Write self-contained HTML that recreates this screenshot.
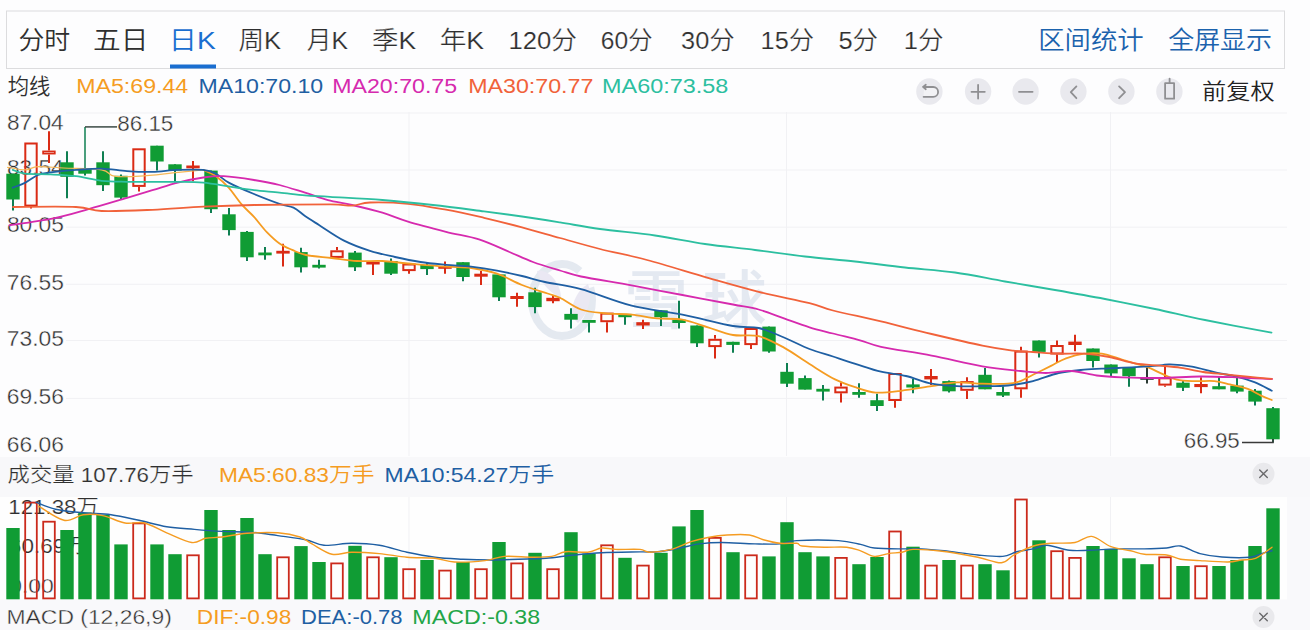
<!DOCTYPE html><html><head><meta charset="utf-8"><title>K线图</title>
<style>html,body{margin:0;padding:0;background:#fdfdfe;}body{width:1310px;height:630px;overflow:hidden;}svg{display:block;font-family:'Liberation Sans','Noto Sans CJK SC',sans-serif;}</style></head><body>
<svg width="1310" height="630" viewBox="0 0 1310 630">
<rect x="0" y="0" width="1310" height="630" fill="#fdfdfe"/>
<rect x="0" y="457" width="1310" height="40" fill="#f8f8fa"/>
<rect x="0" y="497" width="1310" height="133" fill="#f9f9fb"/>
<rect x="0" y="497" width="1287" height="102.5" fill="#fefefe"/>
<rect x="6.5" y="11" width="1278" height="57.5" fill="#fdfdfe" stroke="#dcdcde" stroke-width="1"/>
<line x1="66" x2="1287" y1="113.0" y2="113.0" stroke="#f1f1f4" stroke-width="1"/>
<line x1="66" x2="1287" y1="170.0" y2="170.0" stroke="#f1f1f4" stroke-width="1"/>
<line x1="66" x2="1287" y1="227.2" y2="227.2" stroke="#f1f1f4" stroke-width="1"/>
<line x1="66" x2="1287" y1="284.3" y2="284.3" stroke="#f1f1f4" stroke-width="1"/>
<line x1="66" x2="1287" y1="340.5" y2="340.5" stroke="#f1f1f4" stroke-width="1"/>
<line x1="66" x2="1287" y1="398.4" y2="398.4" stroke="#f1f1f4" stroke-width="1"/>
<line x1="409.0" x2="409.0" y1="112" y2="456" stroke="#f1f1f4" stroke-width="1"/>
<line x1="409.0" x2="409.0" y1="497" y2="599" stroke="#f1f1f4" stroke-width="1"/>
<line x1="786.5" x2="786.5" y1="112" y2="456" stroke="#f1f1f4" stroke-width="1"/>
<line x1="786.5" x2="786.5" y1="497" y2="599" stroke="#f1f1f4" stroke-width="1"/>
<line x1="1110.5" x2="1110.5" y1="112" y2="456" stroke="#f1f1f4" stroke-width="1"/>
<line x1="1110.5" x2="1110.5" y1="497" y2="599" stroke="#f1f1f4" stroke-width="1"/>
<text x="18.44" y="48.8" font-size="24.5" fill="#2f2f2f" font-weight="350" textLength="51.81" lengthAdjust="spacingAndGlyphs">分时</text>
<text x="93.03" y="48.8" font-size="24.5" fill="#2f2f2f" font-weight="350" textLength="55.31" lengthAdjust="spacingAndGlyphs">五日</text>
<text x="168.74" y="48.8" font-size="24.5" fill="#1a6ed0" font-weight="350" textLength="46.93" lengthAdjust="spacingAndGlyphs">日K</text>
<text x="238.46" y="48.8" font-size="24.5" fill="#2f2f2f" font-weight="350" textLength="42.69" lengthAdjust="spacingAndGlyphs" stroke="#fcfcfd" stroke-width="0.19">周K</text>
<text x="306.89" y="48.8" font-size="24.5" fill="#2f2f2f" font-weight="350" textLength="41.25" lengthAdjust="spacingAndGlyphs" stroke="#fcfcfd" stroke-width="0.19">月K</text>
<text x="372.03" y="48.8" font-size="24.5" fill="#2f2f2f" font-weight="350" textLength="44.13" lengthAdjust="spacingAndGlyphs" stroke="#fcfcfd" stroke-width="0.19">季K</text>
<text x="439.69" y="48.8" font-size="24.5" fill="#2f2f2f" font-weight="350" textLength="44.47" lengthAdjust="spacingAndGlyphs" stroke="#fcfcfd" stroke-width="0.19">年K</text>
<text x="508.42" y="48.8" font-size="24.5" fill="#2f2f2f" font-weight="350" textLength="68.43" lengthAdjust="spacingAndGlyphs" stroke="#fcfcfd" stroke-width="0.19">120分</text>
<text x="600.80" y="48.8" font-size="24.5" fill="#2f2f2f" font-weight="350" textLength="51.91" lengthAdjust="spacingAndGlyphs" stroke="#fcfcfd" stroke-width="0.19">60分</text>
<text x="681.07" y="48.8" font-size="24.5" fill="#2f2f2f" font-weight="350" textLength="53.57" lengthAdjust="spacingAndGlyphs" stroke="#fcfcfd" stroke-width="0.19">30分</text>
<text x="760.64" y="48.8" font-size="24.5" fill="#2f2f2f" font-weight="350" textLength="53.39" lengthAdjust="spacingAndGlyphs" stroke="#fcfcfd" stroke-width="0.19">15分</text>
<text x="838.47" y="48.8" font-size="24.5" fill="#2f2f2f" font-weight="350" textLength="39.57" lengthAdjust="spacingAndGlyphs" stroke="#fcfcfd" stroke-width="0.19">5分</text>
<text x="903.72" y="48.8" font-size="24.5" fill="#2f2f2f" font-weight="350" textLength="39.72" lengthAdjust="spacingAndGlyphs" stroke="#fcfcfd" stroke-width="0.19">1分</text>
<text x="1038.22" y="48.8" font-size="24.5" fill="#1b62ad" font-weight="350" textLength="105.46" lengthAdjust="spacingAndGlyphs">区间统计</text>
<text x="1168.16" y="48.8" font-size="24.5" fill="#1b62ad" font-weight="350" textLength="103.92" lengthAdjust="spacingAndGlyphs">全屏显示</text>
<rect x="170" y="64.5" width="46" height="4" fill="#1a6ed0"/>
<text x="7.71" y="94.3" font-size="21.5" fill="#2f2f2f" font-weight="350" textLength="42.69" lengthAdjust="spacingAndGlyphs">均线</text>
<text x="76.21" y="93.1" font-size="20.7" fill="#f59c22" font-weight="350" textLength="112.06" lengthAdjust="spacingAndGlyphs">MA5:69.44</text>
<text x="198.51" y="93.1" font-size="20.7" fill="#1f5fa3" font-weight="350" textLength="124.68" lengthAdjust="spacingAndGlyphs">MA10:70.10</text>
<text x="332.21" y="93.1" font-size="20.7" fill="#d62aae" font-weight="350" textLength="124.90" lengthAdjust="spacingAndGlyphs">MA20:70.75</text>
<text x="468.21" y="93.1" font-size="20.7" fill="#f1623a" font-weight="350" textLength="125.13" lengthAdjust="spacingAndGlyphs">MA30:70.77</text>
<text x="602.09" y="93.1" font-size="20.7" fill="#2cbfa0" font-weight="350" textLength="126.13" lengthAdjust="spacingAndGlyphs">MA60:73.58</text>
<text x="1202.06" y="98.7" font-size="21.5" fill="#222" font-weight="350" textLength="72.52" lengthAdjust="spacingAndGlyphs">前复权</text>
<circle cx="929.4" cy="91.5" r="13.2" fill="#e9e9ee"/>
<circle cx="978.1" cy="91.5" r="13.2" fill="#e9e9ee"/>
<circle cx="1025.6" cy="91.5" r="13.2" fill="#e9e9ee"/>
<circle cx="1073.4" cy="91.5" r="13.2" fill="#e9e9ee"/>
<circle cx="1121.4" cy="91.5" r="13.2" fill="#e9e9ee"/>
<circle cx="1169.4" cy="91.5" r="13.2" fill="#e9e9ee"/>
<path d="M924.0,87.0 h9.2 a4.9,4.9 0 0 1 0,9.8 h-9.6" stroke="#8f8f92" stroke-width="1.8" fill="#f2f2f5" stroke-linecap="round" stroke-linejoin="round"/>
<path d="M925.8,89.2 l-2.8,-2.3 l2.8,-2.1" stroke="#8f8f92" stroke-width="1.8" fill="none" stroke-linecap="round" stroke-linejoin="round"/>
<path d="M971.5,91.8 h13.3 M978.1,84.8 v13.7" stroke="#8f8f92" stroke-width="1.8" fill="none" stroke-linecap="round" stroke-linejoin="round"/>
<path d="M1019.0,91.8 h13.6" stroke="#8f8f92" stroke-width="1.8" fill="none" stroke-linecap="round" stroke-linejoin="round"/>
<path d="M1076.4,86.4 l-5.6,5.7 l5.6,6.1" stroke="#8f8f92" stroke-width="1.8" fill="none" stroke-linecap="round" stroke-linejoin="round"/>
<path d="M1119.1,86.4 l5.9,5.7 l-5.9,6.1" stroke="#8f8f92" stroke-width="1.8" fill="none" stroke-linecap="round" stroke-linejoin="round"/>
<path d="M1169.6,83.2 v-4.6 M1165.1,83.2 h9 v15.5 h-9 z" stroke="#8f8f92" stroke-width="1.8" fill="none" stroke-linecap="round" stroke-linejoin="round"/>
<text x="6.94" y="129.7" font-size="21.3" fill="#2f2f2f" font-weight="350" textLength="56.64" lengthAdjust="spacingAndGlyphs" stroke="#fcfcfd" stroke-width="0.35">87.04</text>
<text x="6.94" y="174.8" font-size="21.3" fill="#2f2f2f" font-weight="350" textLength="56.64" lengthAdjust="spacingAndGlyphs" stroke="#fcfcfd" stroke-width="0.35">83.54</text>
<text x="6.94" y="231.5" font-size="21.3" fill="#2f2f2f" font-weight="350" textLength="56.97" lengthAdjust="spacingAndGlyphs" stroke="#fcfcfd" stroke-width="0.35">80.05</text>
<text x="6.83" y="289.8" font-size="21.3" fill="#2f2f2f" font-weight="350" textLength="57.08" lengthAdjust="spacingAndGlyphs" stroke="#fcfcfd" stroke-width="0.35">76.55</text>
<text x="6.83" y="345.8" font-size="21.3" fill="#2f2f2f" font-weight="350" textLength="57.08" lengthAdjust="spacingAndGlyphs" stroke="#fcfcfd" stroke-width="0.35">73.05</text>
<text x="6.83" y="403.9" font-size="21.3" fill="#2f2f2f" font-weight="350" textLength="57.08" lengthAdjust="spacingAndGlyphs" stroke="#fcfcfd" stroke-width="0.35">69.56</text>
<text x="6.83" y="451.7" font-size="21.3" fill="#2f2f2f" font-weight="350" textLength="57.08" lengthAdjust="spacingAndGlyphs" stroke="#fcfcfd" stroke-width="0.35">66.06</text>
<text x="8.33" y="513.8" font-size="20" fill="#2f2f2f" font-weight="350" textLength="90.41" lengthAdjust="spacingAndGlyphs" stroke="#fcfcfd" stroke-width="0.19">121.38万</text>
<text x="8.87" y="552.5" font-size="20" fill="#2f2f2f" font-weight="350" textLength="78.98" lengthAdjust="spacingAndGlyphs" stroke="#fcfcfd" stroke-width="0.19">60.69万</text>
<text x="9.20" y="592.5" font-size="20" fill="#2f2f2f" font-weight="350" textLength="44.63" lengthAdjust="spacingAndGlyphs" stroke="#fcfcfd" stroke-width="0.35">0.00</text>
<g opacity="0.72">
<ellipse cx="562" cy="300" rx="30" ry="36" fill="none" stroke="#dbe2ec" stroke-width="8" stroke-dasharray="175 20 400"/>
<path d="M537,271 C549,268 561,284 561,298 C552,294 541,284 537,271 Z" fill="#e3e1ef"/>
<path d="M571,316 C572,300 579,289 588,284 C593,296 589,313 578,323 Z" fill="#e3e1ef"/>
<text x="624 702.5" y="322.6" font-size="64" font-weight="500" fill="#dbe2ed">雪球</text>
</g>
<line x1="13.0" x2="13.0" y1="173.7" y2="210.6" stroke="#0f7f52" stroke-width="2"/>
<rect x="6.3" y="173.7" width="13.4" height="25.8" fill="#109c34"/>
<line x1="31.0" x2="31.0" y1="206.6" y2="208.5" stroke="#da2b15" stroke-width="2"/>
<rect x="25.3" y="143.5" width="11.4" height="62.1" fill="none" stroke="#da2b15" stroke-width="2.0"/>
<line x1="49.0" x2="49.0" y1="131.2" y2="150.6" stroke="#da2b15" stroke-width="2"/>
<line x1="49.0" x2="49.0" y1="154.5" y2="163.0" stroke="#da2b15" stroke-width="2"/>
<rect x="43.1" y="151.4" width="11.7" height="2.2" fill="none" stroke="#da2b15" stroke-width="1.7"/>
<line x1="67.0" x2="67.0" y1="151.2" y2="198.3" stroke="#0f7f52" stroke-width="2"/>
<rect x="60.3" y="162.3" width="13.4" height="14.5" fill="#109c34"/>
<line x1="85.0" x2="85.0" y1="168.8" y2="175.5" stroke="#0f7f52" stroke-width="2"/>
<rect x="78.3" y="168.8" width="13.4" height="4.9" fill="#109c34"/>
<line x1="103.0" x2="103.0" y1="151.3" y2="191.1" stroke="#0f7f52" stroke-width="2"/>
<rect x="96.3" y="162.3" width="13.4" height="22.9" fill="#109c34"/>
<line x1="121.0" x2="121.0" y1="174.5" y2="199.0" stroke="#0f7f52" stroke-width="2"/>
<rect x="114.3" y="175.8" width="13.4" height="21.8" fill="#109c34"/>
<line x1="139.0" x2="139.0" y1="186.9" y2="191.5" stroke="#da2b15" stroke-width="2"/>
<rect x="133.3" y="149.3" width="11.4" height="36.6" fill="none" stroke="#da2b15" stroke-width="2.0"/>
<line x1="157.0" x2="157.0" y1="145.7" y2="170.6" stroke="#0f7f52" stroke-width="2"/>
<rect x="150.3" y="145.7" width="13.4" height="15.8" fill="#109c34"/>
<line x1="175.0" x2="175.0" y1="164.3" y2="182.6" stroke="#0f7f52" stroke-width="2"/>
<rect x="168.3" y="164.3" width="13.4" height="6.3" fill="#109c34"/>
<line x1="193.0" x2="193.0" y1="161.0" y2="181.3" stroke="#da2b15" stroke-width="2"/>
<rect x="186.3" y="165.5" width="13.4" height="2.8" fill="#da2b15"/>
<line x1="211.0" x2="211.0" y1="170.6" y2="213.0" stroke="#0f7f52" stroke-width="2"/>
<rect x="204.3" y="170.6" width="13.4" height="38.6" fill="#109c34"/>
<line x1="229.0" x2="229.0" y1="208.0" y2="235.4" stroke="#0f7f52" stroke-width="2"/>
<rect x="222.3" y="214.3" width="13.4" height="15.8" fill="#109c34"/>
<line x1="247.0" x2="247.0" y1="231.0" y2="261.0" stroke="#0f7f52" stroke-width="2"/>
<rect x="240.3" y="231.9" width="13.4" height="25.4" fill="#109c34"/>
<line x1="265.0" x2="265.0" y1="247.0" y2="259.7" stroke="#0f7f52" stroke-width="2"/>
<rect x="258.3" y="252.5" width="13.4" height="2.8" fill="#109c34"/>
<line x1="283.0" x2="283.0" y1="243.7" y2="266.6" stroke="#da2b15" stroke-width="2"/>
<rect x="276.3" y="250.8" width="13.4" height="2.8" fill="#da2b15"/>
<line x1="301.0" x2="301.0" y1="247.8" y2="272.4" stroke="#0f7f52" stroke-width="2"/>
<rect x="294.3" y="252.1" width="13.4" height="15.2" fill="#109c34"/>
<line x1="319.0" x2="319.0" y1="259.7" y2="268.6" stroke="#0f7f52" stroke-width="2"/>
<rect x="312.3" y="264.8" width="13.4" height="2.8" fill="#109c34"/>
<line x1="337.0" x2="337.0" y1="247.0" y2="250.3" stroke="#da2b15" stroke-width="2"/>
<rect x="331.3" y="251.3" width="11.4" height="5.6" fill="none" stroke="#da2b15" stroke-width="2.0"/>
<line x1="355.0" x2="355.0" y1="251.0" y2="271.1" stroke="#0f7f52" stroke-width="2"/>
<rect x="348.3" y="252.6" width="13.4" height="14.7" fill="#109c34"/>
<line x1="373.0" x2="373.0" y1="261.7" y2="275.0" stroke="#da2b15" stroke-width="2"/>
<rect x="366.3" y="261.7" width="13.4" height="2.8" fill="#da2b15"/>
<line x1="391.0" x2="391.0" y1="258.4" y2="275.0" stroke="#0f7f52" stroke-width="2"/>
<rect x="384.3" y="261.0" width="13.4" height="12.7" fill="#109c34"/>
<line x1="409.0" x2="409.0" y1="271.1" y2="273.7" stroke="#da2b15" stroke-width="2"/>
<rect x="403.3" y="264.5" width="11.4" height="5.6" fill="none" stroke="#da2b15" stroke-width="2.0"/>
<line x1="427.0" x2="427.0" y1="262.2" y2="275.0" stroke="#0f7f52" stroke-width="2"/>
<rect x="420.3" y="264.8" width="13.4" height="4.3" fill="#109c34"/>
<line x1="445.0" x2="445.0" y1="261.5" y2="273.7" stroke="#da2b15" stroke-width="2"/>
<rect x="438.3" y="266.0" width="13.4" height="2.8" fill="#da2b15"/>
<line x1="463.0" x2="463.0" y1="262.2" y2="281.3" stroke="#0f7f52" stroke-width="2"/>
<rect x="456.3" y="262.2" width="13.4" height="14.8" fill="#109c34"/>
<line x1="481.0" x2="481.0" y1="271.1" y2="285.1" stroke="#da2b15" stroke-width="2"/>
<rect x="474.3" y="273.7" width="13.4" height="3.0" fill="#da2b15"/>
<line x1="499.0" x2="499.0" y1="274.4" y2="301.1" stroke="#0f7f52" stroke-width="2"/>
<rect x="492.3" y="274.4" width="13.4" height="22.9" fill="#109c34"/>
<line x1="517.0" x2="517.0" y1="292.7" y2="306.7" stroke="#da2b15" stroke-width="2"/>
<rect x="510.3" y="296.0" width="13.4" height="3.0" fill="#da2b15"/>
<line x1="535.0" x2="535.0" y1="287.7" y2="313.2" stroke="#0f7f52" stroke-width="2"/>
<rect x="528.3" y="292.3" width="13.4" height="14.8" fill="#109c34"/>
<line x1="553.0" x2="553.0" y1="295.6" y2="303.2" stroke="#da2b15" stroke-width="2"/>
<rect x="546.3" y="297.8" width="13.4" height="3.4" fill="#da2b15"/>
<line x1="571.0" x2="571.0" y1="308.3" y2="328.6" stroke="#0f7f52" stroke-width="2"/>
<rect x="564.3" y="313.9" width="13.4" height="5.8" fill="#109c34"/>
<line x1="589.0" x2="589.0" y1="320.0" y2="332.4" stroke="#0f7f52" stroke-width="2"/>
<rect x="582.3" y="320.0" width="13.4" height="2.8" fill="#109c34"/>
<line x1="607.0" x2="607.0" y1="322.2" y2="332.4" stroke="#da2b15" stroke-width="2"/>
<rect x="601.3" y="313.6" width="11.4" height="7.6" fill="none" stroke="#da2b15" stroke-width="2.0"/>
<line x1="625.0" x2="625.0" y1="313.9" y2="324.8" stroke="#0f7f52" stroke-width="2"/>
<rect x="618.3" y="313.9" width="13.4" height="3.3" fill="#109c34"/>
<line x1="643.0" x2="643.0" y1="319.7" y2="329.1" stroke="#da2b15" stroke-width="2"/>
<rect x="636.3" y="322.2" width="13.4" height="3.3" fill="#da2b15"/>
<line x1="661.0" x2="661.0" y1="310.3" y2="326.0" stroke="#0f7f52" stroke-width="2"/>
<rect x="654.3" y="310.3" width="13.4" height="6.9" fill="#109c34"/>
<line x1="679.0" x2="679.0" y1="300.7" y2="328.6" stroke="#0f7f52" stroke-width="2"/>
<rect x="672.3" y="319.7" width="13.4" height="3.3" fill="#109c34"/>
<line x1="697.0" x2="697.0" y1="325.5" y2="347.1" stroke="#0f7f52" stroke-width="2"/>
<rect x="690.3" y="325.5" width="13.4" height="17.8" fill="#109c34"/>
<line x1="715.0" x2="715.0" y1="335.0" y2="338.8" stroke="#da2b15" stroke-width="2"/>
<line x1="715.0" x2="715.0" y1="347.1" y2="358.6" stroke="#da2b15" stroke-width="2"/>
<rect x="709.3" y="339.8" width="11.4" height="6.3" fill="none" stroke="#da2b15" stroke-width="2.0"/>
<line x1="733.0" x2="733.0" y1="341.8" y2="352.7" stroke="#0f7f52" stroke-width="2"/>
<rect x="726.3" y="341.8" width="13.4" height="3.1" fill="#109c34"/>
<line x1="751.0" x2="751.0" y1="345.1" y2="349.0" stroke="#da2b15" stroke-width="2"/>
<rect x="745.3" y="329.0" width="11.4" height="15.1" fill="none" stroke="#da2b15" stroke-width="2.0"/>
<line x1="769.0" x2="769.0" y1="326.6" y2="352.7" stroke="#0f7f52" stroke-width="2"/>
<rect x="762.3" y="326.6" width="13.4" height="24.9" fill="#109c34"/>
<line x1="787.0" x2="787.0" y1="362.9" y2="387.0" stroke="#0f7f52" stroke-width="2"/>
<rect x="780.3" y="371.8" width="13.4" height="11.9" fill="#109c34"/>
<line x1="805.0" x2="805.0" y1="375.6" y2="389.6" stroke="#0f7f52" stroke-width="2"/>
<rect x="798.3" y="378.1" width="13.4" height="11.5" fill="#109c34"/>
<line x1="823.0" x2="823.0" y1="385.0" y2="400.5" stroke="#0f7f52" stroke-width="2"/>
<rect x="816.3" y="388.8" width="13.4" height="2.8" fill="#109c34"/>
<line x1="841.0" x2="841.0" y1="382.4" y2="386.6" stroke="#da2b15" stroke-width="2"/>
<line x1="841.0" x2="841.0" y1="393.3" y2="402.5" stroke="#da2b15" stroke-width="2"/>
<rect x="835.3" y="387.6" width="11.4" height="4.7" fill="none" stroke="#da2b15" stroke-width="2.0"/>
<line x1="859.0" x2="859.0" y1="383.2" y2="397.7" stroke="#0f7f52" stroke-width="2"/>
<rect x="852.3" y="392.0" width="13.4" height="2.8" fill="#109c34"/>
<line x1="877.0" x2="877.0" y1="393.8" y2="411.1" stroke="#0f7f52" stroke-width="2"/>
<rect x="870.3" y="400.2" width="13.4" height="5.8" fill="#109c34"/>
<line x1="895.0" x2="895.0" y1="401.0" y2="407.8" stroke="#da2b15" stroke-width="2"/>
<rect x="889.3" y="374.0" width="11.4" height="26.0" fill="none" stroke="#da2b15" stroke-width="2.0"/>
<line x1="913.0" x2="913.0" y1="379.1" y2="393.3" stroke="#0f7f52" stroke-width="2"/>
<rect x="906.3" y="384.4" width="13.4" height="3.1" fill="#109c34"/>
<line x1="931.0" x2="931.0" y1="369.0" y2="385.0" stroke="#da2b15" stroke-width="2"/>
<rect x="924.3" y="376.0" width="13.4" height="3.4" fill="#da2b15"/>
<line x1="949.0" x2="949.0" y1="380.5" y2="392.5" stroke="#0f7f52" stroke-width="2"/>
<rect x="942.3" y="381.1" width="13.4" height="10.2" fill="#109c34"/>
<line x1="967.0" x2="967.0" y1="377.3" y2="381.1" stroke="#da2b15" stroke-width="2"/>
<line x1="967.0" x2="967.0" y1="390.8" y2="398.9" stroke="#da2b15" stroke-width="2"/>
<rect x="961.3" y="382.1" width="11.4" height="7.7" fill="none" stroke="#da2b15" stroke-width="2.0"/>
<line x1="985.0" x2="985.0" y1="367.9" y2="389.3" stroke="#0f7f52" stroke-width="2"/>
<rect x="978.3" y="374.8" width="13.4" height="14.5" fill="#109c34"/>
<line x1="1003.0" x2="1003.0" y1="386.2" y2="397.1" stroke="#0f7f52" stroke-width="2"/>
<rect x="996.3" y="392.0" width="13.4" height="3.6" fill="#109c34"/>
<line x1="1021.0" x2="1021.0" y1="346.8" y2="350.6" stroke="#da2b15" stroke-width="2"/>
<line x1="1021.0" x2="1021.0" y1="389.3" y2="397.7" stroke="#da2b15" stroke-width="2"/>
<rect x="1015.3" y="351.6" width="11.4" height="36.7" fill="none" stroke="#da2b15" stroke-width="2.0"/>
<line x1="1039.0" x2="1039.0" y1="340.5" y2="357.5" stroke="#0f7f52" stroke-width="2"/>
<rect x="1032.3" y="340.5" width="13.4" height="11.4" fill="#109c34"/>
<line x1="1057.0" x2="1057.0" y1="340.5" y2="345.0" stroke="#da2b15" stroke-width="2"/>
<line x1="1057.0" x2="1057.0" y1="354.5" y2="362.6" stroke="#da2b15" stroke-width="2"/>
<rect x="1051.3" y="346.0" width="11.4" height="7.5" fill="none" stroke="#da2b15" stroke-width="2.0"/>
<line x1="1075.0" x2="1075.0" y1="334.8" y2="351.2" stroke="#da2b15" stroke-width="2"/>
<rect x="1068.3" y="341.6" width="13.4" height="3.4" fill="#da2b15"/>
<line x1="1093.0" x2="1093.0" y1="348.5" y2="367.5" stroke="#0f7f52" stroke-width="2"/>
<rect x="1086.3" y="348.5" width="13.4" height="12.5" fill="#109c34"/>
<line x1="1111.0" x2="1111.0" y1="364.5" y2="377.0" stroke="#0f7f52" stroke-width="2"/>
<rect x="1104.3" y="364.5" width="13.4" height="8.9" fill="#109c34"/>
<line x1="1129.0" x2="1129.0" y1="367.0" y2="386.8" stroke="#0f7f52" stroke-width="2"/>
<rect x="1122.3" y="367.0" width="13.4" height="9.2" fill="#109c34"/>
<line x1="1147.0" x2="1147.0" y1="367.5" y2="383.5" stroke="#2b3a33" stroke-width="2"/>
<rect x="1140.3" y="377.0" width="13.4" height="2.8" fill="#2b3a33"/>
<line x1="1165.0" x2="1165.0" y1="365.6" y2="377.3" stroke="#da2b15" stroke-width="2"/>
<line x1="1165.0" x2="1165.0" y1="385.6" y2="386.7" stroke="#da2b15" stroke-width="2"/>
<rect x="1159.3" y="378.3" width="11.4" height="6.3" fill="none" stroke="#da2b15" stroke-width="2.0"/>
<line x1="1183.0" x2="1183.0" y1="380.0" y2="391.0" stroke="#0f7f52" stroke-width="2"/>
<rect x="1176.3" y="382.7" width="13.4" height="5.1" fill="#109c34"/>
<line x1="1201.0" x2="1201.0" y1="377.3" y2="393.3" stroke="#da2b15" stroke-width="2"/>
<rect x="1194.3" y="384.0" width="13.4" height="3.1" fill="#da2b15"/>
<line x1="1219.0" x2="1219.0" y1="376.7" y2="389.3" stroke="#0f7f52" stroke-width="2"/>
<rect x="1212.3" y="386.2" width="13.4" height="3.1" fill="#109c34"/>
<line x1="1237.0" x2="1237.0" y1="377.8" y2="393.3" stroke="#0f7f52" stroke-width="2"/>
<rect x="1230.3" y="385.6" width="13.4" height="6.0" fill="#109c34"/>
<line x1="1255.0" x2="1255.0" y1="389.0" y2="405.6" stroke="#0f7f52" stroke-width="2"/>
<rect x="1248.3" y="390.7" width="13.4" height="10.9" fill="#109c34"/>
<line x1="1273.0" x2="1273.0" y1="407.0" y2="442.5" stroke="#0f7f52" stroke-width="2"/>
<rect x="1266.3" y="408.2" width="13.4" height="31.1" fill="#109c34"/>
<path d="M85,169 V126.9" stroke="#0f7f52" stroke-width="1.5" fill="none"/>
<path d="M85,126.9 H117" stroke="#3a4a44" stroke-width="1.5" fill="none"/>
<text x="117.25" y="131.4" font-size="21.3" fill="#2f2f2f" font-weight="350" textLength="56.04" lengthAdjust="spacingAndGlyphs" stroke="#fcfcfd" stroke-width="0.35">86.15</text>
<path d="M1273,439 V442.5 H1242" stroke="#3a3a3a" stroke-width="1.5" fill="none"/>
<text x="1183.85" y="447.6" font-size="21.3" fill="#2f2f2f" font-weight="350" textLength="55.94" lengthAdjust="spacingAndGlyphs" stroke="#fcfcfd" stroke-width="0.35">66.95</text>
<path d="M7.6,167.3 C10.6,167.7 20.3,170.0 25.4,169.9 C30.5,169.8 31.6,166.9 38.0,166.6 C44.4,166.3 52.9,167.4 63.5,168.0 C74.1,168.6 93.1,168.5 101.6,169.9 C110.1,171.3 108.0,175.1 114.3,176.2 C120.6,177.2 129.1,176.8 139.7,176.2 C150.3,175.6 167.2,173.4 177.8,172.4 C188.4,171.4 199.1,170.3 203.3,169.9" fill="none" stroke="#f6b858" stroke-width="1.2" stroke-linejoin="round" stroke-linecap="round"/>
<path d="M203.3,169.9 C205.4,170.9 211.8,173.2 216.0,176.2 C220.2,179.2 224.5,183.0 228.7,187.7 C232.9,192.4 237.2,199.3 241.4,204.2 C245.6,209.1 249.8,212.2 254.0,216.9 C258.2,221.6 262.6,227.7 266.8,232.1 C271.1,236.5 275.3,240.5 279.5,243.5 C283.7,246.5 287.8,248.0 292.2,249.9 C296.6,251.8 299.4,253.7 306.0,255.0 C312.6,256.4 323.1,257.0 331.6,258.0 C340.1,259.0 348.5,260.5 357.0,261.0 C365.5,261.5 373.9,260.6 382.4,261.0 C390.9,261.4 397.4,262.6 408.0,263.5 C418.6,264.4 435.4,265.9 446.0,266.6 C456.6,267.4 462.9,266.8 471.4,268.0 C479.9,269.2 488.6,270.9 497.0,273.7 C505.4,276.5 513.6,281.7 522.0,285.0 C530.4,288.3 541.3,291.4 547.6,293.5 C553.9,295.6 554.4,295.1 560.0,297.8 C565.6,300.5 573.3,306.9 581.0,309.5 C588.7,312.1 597.6,312.5 606.0,313.4 C614.4,314.2 623.1,313.8 631.6,314.6 C640.1,315.4 648.5,317.5 657.0,318.4 C665.5,319.2 673.9,318.2 682.4,319.7 C690.9,321.2 699.6,324.8 708.0,327.3 C716.4,329.9 724.5,333.5 733.0,335.0 C741.5,336.5 750.2,334.1 758.7,336.2 C767.2,338.3 775.5,343.0 784.0,347.6 C792.5,352.2 801.0,358.7 809.5,364.0 C818.0,369.3 827.1,375.4 835.0,379.4 C842.9,383.4 850.2,385.6 857.0,387.8 C863.8,390.0 868.4,392.1 875.7,392.6 C883.0,393.1 891.7,391.9 901.0,390.8 C910.3,389.7 922.3,387.6 931.6,386.2 C940.9,384.8 948.5,382.8 957.0,382.4 C965.5,382.0 973.9,383.5 982.4,383.7 C990.9,383.9 1001.6,384.1 1008.0,383.7 C1014.4,383.3 1016.3,382.6 1020.5,381.1 C1024.7,379.6 1027.9,377.3 1033.0,374.8 C1038.1,372.3 1045.5,368.6 1051.0,365.9 C1056.5,363.1 1060.5,360.3 1066.0,358.3 C1071.5,356.3 1078.0,354.5 1084.0,353.7 C1090.0,352.9 1095.5,352.7 1101.8,353.7 C1108.1,354.7 1114.4,357.2 1122.0,359.5 C1129.6,361.8 1141.1,364.9 1147.6,367.2 C1154.1,369.5 1156.2,371.3 1161.0,373.4 C1165.8,375.5 1171.1,378.3 1176.7,379.6 C1182.3,380.9 1188.1,380.9 1194.4,381.1 C1200.7,381.4 1208.5,380.6 1214.4,381.1 C1220.3,381.7 1224.4,383.1 1230.0,384.4 C1235.6,385.7 1242.6,387.0 1247.8,388.9 C1253.0,390.8 1257.0,393.8 1261.0,395.6 C1265.0,397.5 1270.0,399.3 1271.8,400.0" fill="none" stroke="#f59c22" stroke-width="1.8" stroke-linejoin="round" stroke-linecap="round"/>
<path d="M12.7,187.7 C14.8,186.8 21.2,184.7 25.4,182.6 C29.6,180.5 33.8,176.7 38.0,175.0 C42.2,173.3 44.4,173.2 50.8,172.4 C57.2,171.6 67.7,170.5 76.2,169.9 C84.7,169.3 93.1,168.4 101.6,168.6 C110.1,168.8 118.5,170.5 127.0,171.1 C135.5,171.7 143.9,172.1 152.4,171.9 C160.9,171.7 169.3,170.2 177.8,169.9 C186.3,169.6 196.9,169.3 203.3,169.9 C209.7,170.5 211.8,171.6 216.0,173.7 C220.2,175.8 222.4,179.2 228.7,182.6 C235.0,186.0 245.5,190.5 254.0,194.0 C262.5,197.5 272.9,201.5 279.5,203.8 C286.1,206.1 289.2,205.6 293.5,207.6 C297.8,209.6 300.8,213.1 305.0,216.0 C309.2,218.9 312.5,220.9 319.0,225.0 C325.5,229.1 335.5,236.3 344.0,240.6 C352.5,244.9 361.5,248.1 370.0,250.8 C378.5,253.5 386.6,255.1 395.0,257.0 C403.4,258.9 412.0,260.7 420.5,262.0 C429.0,263.3 437.6,264.0 446.0,264.8 C454.4,265.6 462.5,265.6 471.0,266.6 C479.5,267.6 488.5,269.0 497.0,270.6 C505.5,272.2 514.0,274.1 522.0,276.0 C530.0,277.9 535.2,279.8 545.0,282.0 C554.8,284.2 566.6,285.2 581.0,289.2 C595.4,293.1 614.7,301.5 631.6,305.7 C648.5,309.9 665.5,311.2 682.4,314.6 C699.3,318.0 720.3,323.8 733.0,326.0 C745.7,328.2 750.2,326.1 758.7,328.0 C767.2,329.9 775.5,334.0 784.0,337.5 C792.5,341.0 801.3,345.8 809.5,349.0 C817.7,352.2 825.4,354.0 833.0,356.5 C840.6,359.0 847.4,361.3 855.4,363.8 C863.4,366.3 872.6,369.7 881.0,371.7 C889.4,373.7 897.6,374.0 906.0,376.0 C914.4,378.0 923.1,382.0 931.6,383.7 C940.1,385.4 948.5,385.8 957.0,386.2 C965.5,386.6 973.9,386.3 982.4,386.2 C990.9,386.1 999.6,386.4 1008.0,385.5 C1016.4,384.6 1024.5,383.2 1033.0,381.1 C1041.5,379.0 1050.2,374.9 1058.7,373.0 C1067.2,371.1 1075.5,370.5 1084.0,369.7 C1092.5,368.9 1101.0,368.8 1109.5,368.4 C1118.0,368.0 1126.6,367.7 1135.0,367.2 C1143.4,366.7 1154.2,365.9 1160.0,365.4 C1165.8,364.9 1164.7,364.2 1170.0,364.4 C1175.3,364.6 1184.6,365.4 1192.0,366.7 C1199.4,368.0 1207.0,370.5 1214.4,372.2 C1221.9,373.9 1230.0,375.0 1236.7,376.7 C1243.4,378.4 1248.6,379.9 1254.4,382.2 C1260.2,384.5 1268.9,389.3 1271.8,390.7" fill="none" stroke="#1f5fa3" stroke-width="1.8" stroke-linejoin="round" stroke-linecap="round"/>
<path d="M9.4,225.3 C16.8,224.2 40.3,221.1 53.6,218.4 C66.9,215.7 77.1,212.3 89.3,208.9 C101.5,205.5 116.5,200.9 127.0,197.8 C137.5,194.7 143.9,192.7 152.4,190.2 C160.9,187.7 169.3,184.7 177.8,182.6 C186.3,180.5 195.7,178.6 203.3,177.5 C210.9,176.4 215.2,175.8 223.6,176.2 C232.0,176.6 244.7,178.5 254.0,180.0 C263.3,181.5 271.0,182.9 279.5,185.0 C288.0,187.1 296.9,190.2 305.0,192.7 C313.1,195.2 320.2,198.1 328.0,200.2 C335.8,202.2 342.9,202.9 352.0,205.0 C361.1,207.1 373.1,209.9 382.4,212.7 C391.7,215.5 397.4,218.4 408.0,221.6 C418.6,224.8 434.2,228.8 446.0,231.8 C457.8,234.8 468.4,236.0 479.0,239.4 C489.6,242.8 500.5,248.2 509.5,252.0 C518.5,255.8 524.6,258.9 533.0,262.0 C541.4,265.1 552.0,268.1 560.0,270.5 C568.0,272.9 569.1,274.0 581.0,276.5 C592.9,279.0 614.7,282.3 631.6,285.4 C648.5,288.5 665.5,291.8 682.4,295.0 C699.3,298.2 720.3,302.1 733.0,304.5 C745.7,306.9 750.2,307.2 758.7,309.5 C767.2,311.8 775.5,315.4 784.0,318.4 C792.5,321.4 801.3,324.8 809.5,327.3 C817.7,329.8 824.6,331.3 833.0,333.5 C841.4,335.7 852.0,338.1 860.0,340.3 C868.0,342.5 869.1,344.2 881.0,346.8 C892.9,349.4 914.7,352.4 931.6,355.7 C948.5,359.0 967.6,363.8 982.4,366.4 C997.2,368.9 1009.9,369.9 1020.5,371.0 C1031.1,372.1 1037.5,373.0 1046.0,373.0 C1054.5,373.0 1062.9,370.6 1071.4,371.0 C1079.9,371.4 1088.4,374.4 1096.8,375.5 C1105.2,376.6 1111.5,376.9 1122.0,377.3 C1132.5,377.7 1147.0,378.1 1160.0,378.0 C1173.0,377.9 1186.7,376.6 1200.0,376.5 C1213.3,376.4 1228.0,377.1 1240.0,377.5 C1252.0,377.9 1266.7,378.8 1272.0,379.0" fill="none" stroke="#d62aae" stroke-width="1.8" stroke-linejoin="round" stroke-linecap="round"/>
<path d="M13.0,207.0 C23.5,207.0 61.2,206.3 76.0,207.0 C90.8,207.7 88.9,210.5 101.6,211.0 C114.3,211.5 135.4,210.5 152.4,209.8 C169.4,209.1 186.4,207.5 203.3,206.7 C220.2,205.9 232.9,205.4 254.0,205.0 C275.1,204.6 313.7,204.3 330.0,204.4 C346.3,204.5 345.3,205.9 352.0,205.6 C358.7,205.3 360.7,202.8 370.0,202.5 C379.3,202.2 395.3,202.6 408.0,203.8 C420.7,205.0 433.3,207.4 446.0,209.7 C458.7,212.0 471.3,214.9 484.0,217.8 C496.7,220.8 509.3,224.0 522.0,227.4 C534.7,230.8 547.0,234.4 560.0,238.0 C573.0,241.6 585.5,245.3 600.0,249.0 C614.5,252.7 629.0,255.2 647.0,260.0 C665.0,264.8 689.4,272.5 708.0,277.8 C726.6,283.1 741.8,287.6 758.7,291.8 C775.6,296.0 797.1,300.1 809.5,303.2 C821.9,306.3 821.1,307.5 833.0,310.5 C844.9,313.5 864.6,317.5 881.0,321.4 C897.4,325.3 914.7,330.0 931.6,334.0 C948.5,338.0 968.8,342.8 982.4,345.6 C996.0,348.4 1004.6,349.5 1013.0,350.6 C1021.4,351.7 1025.4,351.5 1033.0,352.0 C1040.6,352.5 1050.2,353.4 1058.7,353.7 C1067.2,354.0 1075.5,353.1 1084.0,353.7 C1092.5,354.2 1101.0,355.4 1109.5,357.0 C1118.0,358.6 1126.6,362.0 1135.0,363.4 C1143.4,364.8 1152.3,364.9 1160.0,365.6 C1167.7,366.3 1173.8,366.7 1181.0,367.8 C1188.2,368.9 1195.6,370.9 1203.0,372.0 C1210.4,373.1 1218.1,373.6 1225.6,374.4 C1233.1,375.2 1240.1,375.9 1247.8,376.7 C1255.5,377.4 1267.8,378.5 1271.8,378.9" fill="none" stroke="#f1623a" stroke-width="1.8" stroke-linejoin="round" stroke-linecap="round"/>
<path d="M12.7,169.9 C14.8,170.5 19.1,172.9 25.4,173.7 C31.7,174.4 42.3,174.0 50.8,174.4 C59.3,174.8 67.7,175.1 76.2,176.2 C84.7,177.3 93.1,179.9 101.6,180.8 C110.1,181.7 114.3,181.6 127.0,181.8 C139.7,182.0 165.1,181.7 177.8,181.8 C190.5,181.9 194.8,181.8 203.3,182.6 C211.8,183.4 220.2,185.1 228.7,186.4 C237.1,187.7 245.5,189.1 254.0,190.2 C262.5,191.2 271.0,191.8 279.5,192.7 C288.0,193.5 296.6,194.6 305.0,195.3 C313.4,196.0 317.1,196.0 330.0,196.8 C342.9,197.6 365.2,198.6 382.4,200.0 C399.6,201.4 416.1,203.1 433.0,205.0 C449.9,206.9 469.2,209.5 484.0,211.4 C498.8,213.3 509.3,214.7 522.0,216.5 C534.7,218.3 547.0,220.3 560.0,222.4 C573.0,224.5 584.2,226.8 600.0,229.0 C615.8,231.2 637.5,233.0 655.0,235.5 C672.5,238.0 688.3,241.6 705.0,244.0 C721.7,246.4 738.3,247.9 755.0,250.0 C771.7,252.1 788.3,254.6 805.0,256.5 C821.7,258.4 838.3,259.7 855.0,261.5 C871.7,263.3 888.3,265.7 905.0,267.5 C921.7,269.3 938.3,270.2 955.0,272.5 C971.7,274.8 988.3,278.6 1005.0,281.5 C1021.7,284.4 1038.3,287.1 1055.0,290.0 C1071.7,292.9 1088.3,295.8 1105.0,299.0 C1121.7,302.2 1138.3,305.5 1155.0,309.0 C1171.7,312.5 1185.6,316.1 1205.0,320.0 C1224.4,323.9 1260.4,330.6 1271.5,332.7" fill="none" stroke="#2cbfa0" stroke-width="1.8" stroke-linejoin="round" stroke-linecap="round"/>
<rect x="6.3" y="528.0" width="13.4" height="71.3" fill="#109c34"/>
<rect x="25.2" y="502.6" width="11.6" height="95.8" fill="none" stroke="#cb2a1c" stroke-width="1.8"/>
<rect x="43.2" y="521.7" width="11.6" height="76.7" fill="none" stroke="#cb2a1c" stroke-width="1.8"/>
<rect x="60.3" y="530.0" width="13.4" height="69.3" fill="#109c34"/>
<rect x="78.3" y="512.5" width="13.4" height="86.8" fill="#109c34"/>
<rect x="96.3" y="514.7" width="13.4" height="84.6" fill="#109c34"/>
<rect x="114.3" y="544.4" width="13.4" height="54.9" fill="#109c34"/>
<rect x="133.2" y="523.4" width="11.6" height="75.0" fill="none" stroke="#cb2a1c" stroke-width="1.8"/>
<rect x="150.3" y="544.4" width="13.4" height="54.9" fill="#109c34"/>
<rect x="168.3" y="554.2" width="13.4" height="45.1" fill="#109c34"/>
<rect x="187.2" y="555.3" width="11.6" height="43.1" fill="none" stroke="#cb2a1c" stroke-width="1.8"/>
<rect x="204.3" y="510.0" width="13.4" height="89.3" fill="#109c34"/>
<rect x="222.3" y="530.0" width="13.4" height="69.3" fill="#109c34"/>
<rect x="240.3" y="518.0" width="13.4" height="81.3" fill="#109c34"/>
<rect x="258.3" y="554.2" width="13.4" height="45.1" fill="#109c34"/>
<rect x="277.2" y="557.3" width="11.6" height="41.1" fill="none" stroke="#cb2a1c" stroke-width="1.8"/>
<rect x="294.3" y="546.1" width="13.4" height="53.2" fill="#109c34"/>
<rect x="312.3" y="562.0" width="13.4" height="37.3" fill="#109c34"/>
<rect x="331.2" y="563.4" width="11.6" height="35.0" fill="none" stroke="#cb2a1c" stroke-width="1.8"/>
<rect x="348.3" y="545.8" width="13.4" height="53.5" fill="#109c34"/>
<rect x="367.2" y="557.3" width="11.6" height="41.1" fill="none" stroke="#cb2a1c" stroke-width="1.8"/>
<rect x="384.3" y="557.2" width="13.4" height="42.1" fill="#109c34"/>
<rect x="403.2" y="569.2" width="11.6" height="29.2" fill="none" stroke="#cb2a1c" stroke-width="1.8"/>
<rect x="420.3" y="560.0" width="13.4" height="39.3" fill="#109c34"/>
<rect x="439.2" y="570.6" width="11.6" height="27.8" fill="none" stroke="#cb2a1c" stroke-width="1.8"/>
<rect x="456.3" y="562.0" width="13.4" height="37.3" fill="#109c34"/>
<rect x="475.2" y="569.2" width="11.6" height="29.2" fill="none" stroke="#cb2a1c" stroke-width="1.8"/>
<rect x="492.3" y="542.0" width="13.4" height="57.3" fill="#109c34"/>
<rect x="511.2" y="563.4" width="11.6" height="35.0" fill="none" stroke="#cb2a1c" stroke-width="1.8"/>
<rect x="528.3" y="552.8" width="13.4" height="46.5" fill="#109c34"/>
<rect x="547.2" y="569.2" width="11.6" height="29.2" fill="none" stroke="#cb2a1c" stroke-width="1.8"/>
<rect x="564.3" y="532.2" width="13.4" height="67.1" fill="#109c34"/>
<rect x="582.3" y="553.6" width="13.4" height="45.7" fill="#109c34"/>
<rect x="601.2" y="545.3" width="11.6" height="53.1" fill="none" stroke="#cb2a1c" stroke-width="1.8"/>
<rect x="618.3" y="557.8" width="13.4" height="41.5" fill="#109c34"/>
<rect x="637.2" y="565.6" width="11.6" height="32.8" fill="none" stroke="#cb2a1c" stroke-width="1.8"/>
<rect x="654.3" y="552.8" width="13.4" height="46.5" fill="#109c34"/>
<rect x="672.3" y="526.4" width="13.4" height="72.9" fill="#109c34"/>
<rect x="690.3" y="510.0" width="13.4" height="89.3" fill="#109c34"/>
<rect x="709.2" y="537.9" width="11.6" height="60.5" fill="none" stroke="#cb2a1c" stroke-width="1.8"/>
<rect x="726.3" y="552.2" width="13.4" height="47.1" fill="#109c34"/>
<rect x="745.2" y="555.3" width="11.6" height="43.1" fill="none" stroke="#cb2a1c" stroke-width="1.8"/>
<rect x="762.3" y="556.4" width="13.4" height="42.9" fill="#109c34"/>
<rect x="780.3" y="522.2" width="13.4" height="77.1" fill="#109c34"/>
<rect x="798.3" y="552.2" width="13.4" height="47.1" fill="#109c34"/>
<rect x="816.3" y="556.4" width="13.4" height="42.9" fill="#109c34"/>
<rect x="835.2" y="557.9" width="11.6" height="40.5" fill="none" stroke="#cb2a1c" stroke-width="1.8"/>
<rect x="852.3" y="564.2" width="13.4" height="35.1" fill="#109c34"/>
<rect x="870.3" y="557.0" width="13.4" height="42.3" fill="#109c34"/>
<rect x="889.2" y="531.5" width="11.6" height="66.9" fill="none" stroke="#cb2a1c" stroke-width="1.8"/>
<rect x="906.3" y="546.7" width="13.4" height="52.6" fill="#109c34"/>
<rect x="925.2" y="565.6" width="11.6" height="32.8" fill="none" stroke="#cb2a1c" stroke-width="1.8"/>
<rect x="942.3" y="560.0" width="13.4" height="39.3" fill="#109c34"/>
<rect x="961.2" y="565.6" width="11.6" height="32.8" fill="none" stroke="#cb2a1c" stroke-width="1.8"/>
<rect x="978.3" y="564.2" width="13.4" height="35.1" fill="#109c34"/>
<rect x="996.3" y="570.3" width="13.4" height="29.0" fill="#109c34"/>
<rect x="1015.2" y="499.5" width="11.6" height="98.9" fill="none" stroke="#cb2a1c" stroke-width="1.8"/>
<rect x="1032.3" y="540.3" width="13.4" height="59.0" fill="#109c34"/>
<rect x="1051.2" y="551.2" width="11.6" height="47.2" fill="none" stroke="#cb2a1c" stroke-width="1.8"/>
<rect x="1069.2" y="557.9" width="11.6" height="40.5" fill="none" stroke="#cb2a1c" stroke-width="1.8"/>
<rect x="1086.3" y="546.0" width="13.4" height="53.3" fill="#109c34"/>
<rect x="1104.3" y="548.9" width="13.4" height="50.4" fill="#109c34"/>
<rect x="1122.3" y="558.3" width="13.4" height="41.0" fill="#109c34"/>
<rect x="1140.3" y="564.2" width="13.4" height="35.1" fill="#109c34"/>
<rect x="1159.2" y="557.3" width="11.6" height="41.1" fill="none" stroke="#cb2a1c" stroke-width="1.8"/>
<rect x="1176.3" y="566.0" width="13.4" height="33.3" fill="#109c34"/>
<rect x="1195.2" y="566.2" width="11.6" height="32.2" fill="none" stroke="#cb2a1c" stroke-width="1.8"/>
<rect x="1212.3" y="566.0" width="13.4" height="33.3" fill="#109c34"/>
<rect x="1230.3" y="560.0" width="13.4" height="39.3" fill="#109c34"/>
<rect x="1248.3" y="546.0" width="13.4" height="53.3" fill="#109c34"/>
<rect x="1266.3" y="508.3" width="13.4" height="91.0" fill="#109c34"/>
<path d="M36.0,502.2 C39.3,503.4 47.7,507.4 55.6,509.2 C63.5,511.0 74.1,511.9 83.3,512.8 C92.5,513.7 101.7,513.5 111.0,514.7 C120.3,516.0 129.7,518.3 139.0,520.3 C148.3,522.3 157.5,525.2 166.7,526.7 C175.9,528.2 185.2,528.6 194.4,529.4 C203.6,530.2 212.7,530.9 222.0,531.4 C231.3,531.9 240.7,531.5 250.0,532.2 C259.3,532.9 268.5,534.4 277.8,535.6 C287.1,536.9 297.9,538.1 305.6,539.7 C313.3,541.3 316.3,544.7 324.0,545.3 C331.7,545.9 342.5,543.3 351.7,543.3 C360.9,543.3 370.2,543.8 379.4,545.3 C388.6,546.8 397.7,550.2 407.0,552.2 C416.3,554.2 425.7,556.0 435.0,557.2 C444.3,558.4 453.5,558.7 462.8,559.2 C472.1,559.7 481.4,560.0 490.6,560.0 C499.9,560.0 509.1,559.5 518.3,559.2 C527.5,558.9 536.7,559.0 546.0,558.3 C555.3,557.6 564.7,555.9 574.0,555.0 C583.3,554.1 590.7,553.3 601.7,552.8 C612.7,552.3 630.6,552.1 640.0,551.9 C649.4,551.7 651.1,552.4 657.8,551.7 C664.5,551.1 673.1,549.3 680.0,548.0 C686.9,546.7 692.4,544.8 699.4,543.9 C706.4,543.0 712.4,542.5 721.7,542.5 C731.0,542.5 745.3,543.7 755.0,543.9 C764.7,544.1 773.0,544.4 780.0,543.9 C787.0,543.4 787.0,541.1 796.7,540.6 C806.4,540.1 827.6,540.0 838.3,540.6 C848.9,541.2 854.6,543.2 860.6,544.4 C866.6,545.6 867.5,547.2 874.4,548.0 C881.3,548.8 894.1,548.8 902.0,548.9 C909.9,549.0 914.7,548.6 921.7,548.9 C928.7,549.2 934.6,549.8 944.0,550.8 C953.4,551.8 968.0,554.1 977.8,555.0 C987.6,555.9 996.3,556.9 1002.8,556.4 C1009.3,555.9 1011.6,553.0 1016.7,551.7 C1021.8,550.5 1028.2,550.0 1033.3,548.9 C1038.3,547.8 1041.0,545.1 1047.0,545.3 C1053.0,545.5 1062.4,549.5 1069.4,550.3 C1076.4,551.1 1081.1,550.5 1089.0,550.3 C1096.9,550.1 1107.5,549.1 1116.7,548.9 C1125.9,548.7 1136.1,549.0 1144.4,548.9 C1152.7,548.8 1160.7,548.5 1166.7,548.0 C1172.7,547.5 1175.0,545.1 1180.6,546.0 C1186.1,546.9 1193.1,551.8 1200.0,553.6 C1206.9,555.4 1213.7,556.4 1222.0,557.0 C1230.3,557.6 1243.0,557.9 1250.0,557.2 C1257.0,556.5 1260.2,553.9 1263.9,552.8 C1267.6,551.7 1270.7,551.1 1272.0,550.8" fill="none" stroke="#1f5fa3" stroke-width="1.4" stroke-linejoin="round" stroke-linecap="round"/>
<path d="M39.0,506.4 C43.2,508.7 56.6,518.9 64.0,520.3 C71.4,521.7 76.8,515.5 83.3,514.7 C89.8,513.9 95.8,514.2 102.8,515.6 C109.8,517.0 118.1,521.8 125.0,523.0 C131.9,524.2 137.5,521.4 144.4,523.0 C151.3,524.6 158.8,529.5 166.7,532.8 C174.6,536.0 185.2,541.6 191.7,542.5 C198.2,543.4 200.5,539.2 205.6,538.3 C210.7,537.4 215.1,537.8 222.0,537.0 C228.9,536.2 237.7,534.0 247.0,533.3 C256.3,532.6 269.0,532.2 277.8,532.8 C286.6,533.4 294.3,535.1 300.0,537.0 C305.7,538.9 306.7,541.0 312.0,543.9 C317.3,546.8 325.4,552.8 332.0,554.2 C338.6,555.6 343.8,552.3 351.7,552.2 C359.6,552.1 370.2,552.8 379.4,553.6 C388.6,554.4 397.7,556.4 407.0,557.2 C416.3,558.0 427.1,557.5 435.0,558.3 C442.9,559.1 446.1,561.6 454.4,562.0 C462.7,562.4 476.7,561.5 485.0,560.6 C493.3,559.7 496.6,557.0 504.4,556.4 C512.2,555.8 524.1,557.2 532.0,557.2 C539.9,557.2 546.1,557.3 551.7,556.4 C557.3,555.5 559.6,552.4 565.6,551.7 C571.6,551.0 581.8,552.8 587.8,552.2 C593.8,551.6 597.1,548.5 601.7,548.0 C606.3,547.5 609.2,549.2 615.6,549.4 C622.0,549.6 634.4,548.9 640.0,549.4 C645.6,549.9 644.1,552.2 649.4,552.2 C654.7,552.2 664.8,551.1 671.7,549.4 C678.6,547.6 685.0,543.7 691.0,541.7 C697.0,539.7 701.8,538.6 707.8,537.5 C713.8,536.4 720.1,535.4 727.0,535.0 C733.9,534.6 743.4,534.2 749.4,535.0 C755.4,535.8 758.2,538.3 763.3,539.7 C768.4,541.1 774.4,542.7 780.0,543.3 C785.6,543.9 793.0,542.8 796.7,543.3 C800.4,543.8 797.4,545.4 802.0,546.0 C806.6,546.6 816.9,547.0 824.4,547.2 C831.9,547.4 840.7,546.6 846.7,547.2 C852.7,547.8 856.0,549.3 860.6,550.8 C865.2,552.3 869.8,555.9 874.4,556.4 C879.0,556.9 883.7,554.3 888.3,553.6 C892.9,552.9 897.9,552.9 902.0,552.2 C906.1,551.5 906.7,549.6 913.0,549.4 C919.3,549.2 929.2,549.7 940.0,551.0 C950.8,552.3 967.6,555.2 977.8,557.2 C988.0,559.2 995.4,563.2 1001.4,562.8 C1007.4,562.4 1008.6,557.8 1013.9,555.0 C1019.2,552.2 1027.0,548.0 1033.3,546.0 C1039.5,544.0 1044.5,543.9 1051.4,543.3 C1058.4,542.7 1068.3,543.6 1075.0,542.5 C1081.7,541.4 1085.7,535.7 1091.7,536.4 C1097.7,537.1 1104.5,544.3 1111.0,546.7 C1117.5,549.1 1125.0,549.5 1130.6,550.8 C1136.2,552.0 1138.4,553.5 1144.4,554.2 C1150.4,554.9 1160.7,554.2 1166.7,555.0 C1172.7,555.8 1175.0,558.3 1180.6,559.2 C1186.1,560.1 1192.1,560.1 1200.0,560.6 C1207.9,561.1 1220.8,562.1 1227.8,562.0 C1234.8,561.9 1237.1,560.6 1241.7,560.0 C1246.3,559.4 1250.5,560.4 1255.6,558.3 C1260.6,556.2 1269.3,549.1 1272.0,547.2" fill="none" stroke="#f59c22" stroke-width="1.4" stroke-linejoin="round" stroke-linecap="round"/>
<text x="7.64" y="481.9" font-size="20.6" fill="#2f2f2f" font-weight="350" textLength="186.04" lengthAdjust="spacingAndGlyphs" stroke="#fcfcfd" stroke-width="0.19">成交量 107.76万手</text>
<text x="219.03" y="481.9" font-size="20.6" fill="#f59c22" font-weight="350" textLength="155.37" lengthAdjust="spacingAndGlyphs">MA5:60.83万手</text>
<text x="384.62" y="481.9" font-size="20.6" fill="#1f5fa3" font-weight="350" textLength="169.49" lengthAdjust="spacingAndGlyphs">MA10:54.27万手</text>
<text x="6.57" y="623.5" font-size="20" fill="#2f2f2f" font-weight="350" textLength="165.26" lengthAdjust="spacingAndGlyphs" stroke="#fcfcfd" stroke-width="0.35">MACD (12,26,9)</text>
<text x="196.79" y="623.5" font-size="20" fill="#f59c22" font-weight="350" textLength="94.45" lengthAdjust="spacingAndGlyphs">DIF:-0.98</text>
<text x="301.04" y="623.5" font-size="20" fill="#1f5fa3" font-weight="350" textLength="101.57" lengthAdjust="spacingAndGlyphs">DEA:-0.78</text>
<text x="412.34" y="623.5" font-size="20" fill="#22a548" font-weight="350" textLength="127.81" lengthAdjust="spacingAndGlyphs">MACD:-0.38</text>
<circle cx="1263.5" cy="473.7" r="11" fill="#e9e9ec"/>
<path d="M1259.7,469.9 l7.6,7.6 M1267.3,469.9 l-7.6,7.6" stroke="#6a6a6c" stroke-width="1.4" fill="none" stroke-linecap="round"/>
<circle cx="1263.5" cy="617.0" r="11" fill="#e9e9ec"/>
<path d="M1259.7,613.2 l7.6,7.6 M1267.3,613.2 l-7.6,7.6" stroke="#6a6a6c" stroke-width="1.4" fill="none" stroke-linecap="round"/>
</svg></body></html>
